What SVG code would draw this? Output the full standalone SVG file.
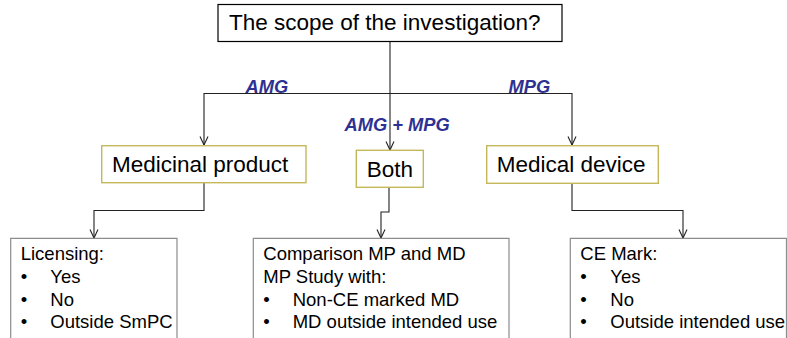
<svg xmlns="http://www.w3.org/2000/svg" width="787" height="338" viewBox="0 0 787 338">
<style>
text{font-family:"Liberation Sans",Arial,sans-serif;fill:#000}
.big{font-size:22.5px}
.sm{font-size:18.5px}
.lbl{font-size:18.3px;font-weight:bold;font-style:italic;fill:#2e3192}
.top{fill:#fff;stroke:#000;stroke-width:1.2}
.ol{fill:#fff;stroke:#c4b85a;stroke-width:1.4}
.gr{fill:#fff;stroke:#8c8c8c;stroke-width:1.2}
.c{fill:none;stroke:#222;stroke-width:1.1}
</style>
<defs>
<marker id="a" viewBox="0 0 10 10" refX="9.5" refY="5" markerWidth="10" markerHeight="10" markerUnits="userSpaceOnUse" orient="auto">
<path d="M1,1 L9.5,5 L1,9" fill="none" stroke="#222" stroke-width="1.1"/>
</marker>
</defs>
<g id="connectors">
<path class="c" d="M390,42 V93.5"/>
<path class="c" d="M390,93.5 H204 V145" marker-end="url(#a)"/>
<path class="c" d="M390,93.5 H572 V145" marker-end="url(#a)"/>
<path class="c" d="M390,93.5 V150" marker-end="url(#a)"/>
<path class="c" d="M204,183 V210.5 H94 V238" marker-end="url(#a)"/>
<path class="c" d="M389,187.5 V212 H381 V238" marker-end="url(#a)"/>
<path class="c" d="M572,183.5 V210.5 H683 V238" marker-end="url(#a)"/>
<text class="lbl" x="245.5" y="92.5">AMG</text>
<text class="lbl" x="508.5" y="92.5">MPG</text>
<text class="lbl" x="344.5" y="130.5">AMG + MPG</text>
</g>
<g id="scope">
<rect class="top" x="218" y="4.5" width="344" height="37"/>
<text class="big" x="229" y="30">The scope of the investigation?</text>
</g>
<g id="medicinal">
<rect class="ol" x="101.7" y="145.7" width="204.3" height="37"/>
<text class="big" x="112" y="172.3">Medicinal product</text>
</g>
<g id="both">
<rect class="ol" x="356.3" y="150.3" width="67" height="37"/>
<text class="big" x="366.7" y="176.5">Both</text>
</g>
<g id="device">
<rect class="ol" x="486.7" y="145.7" width="171.6" height="37.6"/>
<text class="big" x="496.7" y="172.3">Medical device</text>
</g>
<g id="licensing">
<path class="gr" d="M10.7,345 V238.3 H177 V345"/>
<text class="sm" x="20.7" y="260">Licensing:</text>
<text class="sm" x="20.7" y="283.3">•</text><text class="sm" x="50.3" y="283.3">Yes</text>
<text class="sm" x="20.7" y="305.8">•</text><text class="sm" x="50.3" y="305.8">No</text>
<text class="sm" x="20.7" y="328.3">•</text><text class="sm" x="50.3" y="328.3">Outside SmPC</text>
</g>
<g id="comparison">
<path class="gr" d="M253.3,345 V238.3 H509 V345"/>
<text class="sm" x="263.3" y="260">Comparison MP and MD</text>
<text class="sm" x="263.3" y="283.3">MP Study with:</text>
<text class="sm" x="263.3" y="305.8">•</text><text class="sm" x="292.7" y="305.8">Non-CE marked MD</text>
<text class="sm" x="263.3" y="328.3">•</text><text class="sm" x="292.7" y="328.3">MD outside intended use</text>
</g>
<g id="cemark">
<path class="gr" d="M570.3,345 V238.3 H786.5 V345"/>
<text class="sm" x="580.3" y="260">CE Mark:</text>
<text class="sm" x="580.3" y="283.3">•</text><text class="sm" x="610.3" y="283.3">Yes</text>
<text class="sm" x="580.3" y="305.8">•</text><text class="sm" x="610.3" y="305.8">No</text>
<text class="sm" x="580.3" y="328.3">•</text><text class="sm" x="610.3" y="328.3">Outside intended use</text>
</g>
</svg>
